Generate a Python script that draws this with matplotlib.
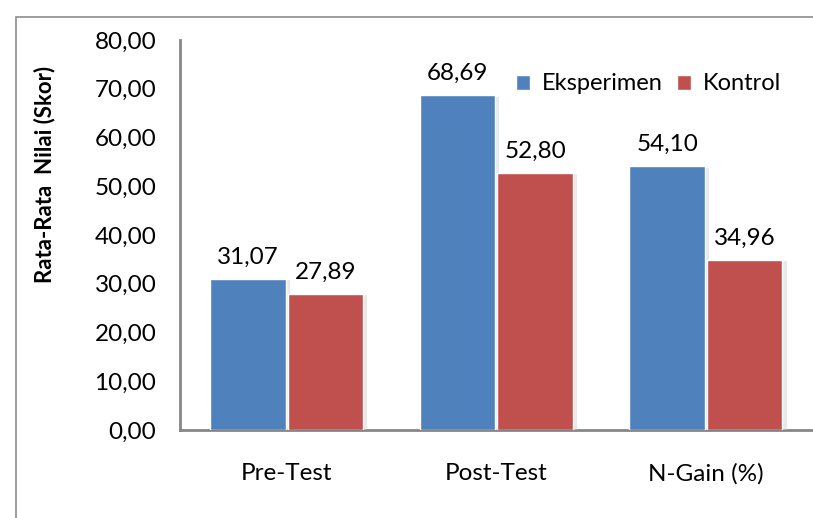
import matplotlib
matplotlib.use("Agg")
import matplotlib.pyplot as plt
import matplotlib.patheffects as pe
from matplotlib.patches import Rectangle, Patch
import numpy as np

categories = ["Pre-Test", "Post-Test", "N-Gain (%)"]
eksperimen = [31.07, 68.69, 54.10]
kontrol = [27.89, 52.80, 34.96]
series_names = ["Eksperimen", "Kontrol"]
yticks = [0, 10, 20, 30, 40, 50, 60, 70, 80]

plt.rcParams['font.family'] = ['Lato', 'DejaVu Sans']
FS = 17.5

W, H = 813, 518
fig = plt.figure(figsize=(W / 100, H / 100), dpi=100)

# outer border (only top/left visible in reference)
fig.patches.append(Rectangle((16 / W, -0.1), 2, (H - 17) / H + 0.1, transform=fig.transFigure,
                             fill=False, edgecolor="#8c8c8c", linewidth=1.2))

ax = fig.add_axes([180 / W, (H - 430) / H, (W - 180) / W + 0.01, 390 / H])
x = np.arange(len(categories))
bw = 0.36
blue = "#4f81bd"
red = "#c0504d"
shadow = [pe.SimplePatchShadow(offset=(3, -1), shadow_rgbFace="#d0d0d0", alpha=0.45), pe.Normal()]
b1 = ax.bar(x - bw / 2 - 0.005, eksperimen, bw, color=blue, edgecolor="white", linewidth=1,
            path_effects=shadow, zorder=3)
b2 = ax.bar(x + bw / 2 + 0.005, kontrol, bw, color=red, edgecolor="white", linewidth=1,
            path_effects=shadow, zorder=3)

for bars, vals in ((b1, eksperimen), (b2, kontrol)):
    for r, v in zip(bars, vals):
        ax.annotate(f"{v:.2f}".replace(".", ","), (r.get_x() + r.get_width() / 2, v),
                    xytext=(0, 8), textcoords="offset points", ha="center", va="bottom",
                    fontsize=FS, color="black")

ax.set_ylim(0, 80)
ax.set_xlim(-0.51, 2.55)
ax.set_yticks(yticks)
ax.set_yticklabels([f"{t:.2f}".replace(".", ",") for t in yticks], fontsize=FS)
ax.set_xticks(x)
ax.set_xticklabels(categories, fontsize=FS)
ax.tick_params(axis="both", length=0)
ax.tick_params(axis="y", pad=17)
ax.tick_params(axis="x", pad=24)
for s in ("top", "right"):
    ax.spines[s].set_visible(False)
for s in ("left", "bottom"):
    ax.spines[s].set_color("#868686")
    ax.spines[s].set_linewidth(2)

fig.text(45 / W, 1 - 174 / H, "Rata-Rata  Nilai (Skor)", rotation=90, fontsize=16,
         fontweight="bold", ha="center", va="center")

handles = [Patch(facecolor=blue, edgecolor="white"), Patch(facecolor=red, edgecolor="white")]
ax.legend(handles, series_names, loc="center left", bbox_to_anchor=(516 / W, 1 - 84 / H),
          bbox_transform=fig.transFigure, ncol=2, frameon=False, fontsize=17,
          handlelength=0.6, handleheight=0.6, handletextpad=0.5, columnspacing=0.6,
          borderpad=0, borderaxespad=0)

fig.savefig("out.png", dpi=100)
